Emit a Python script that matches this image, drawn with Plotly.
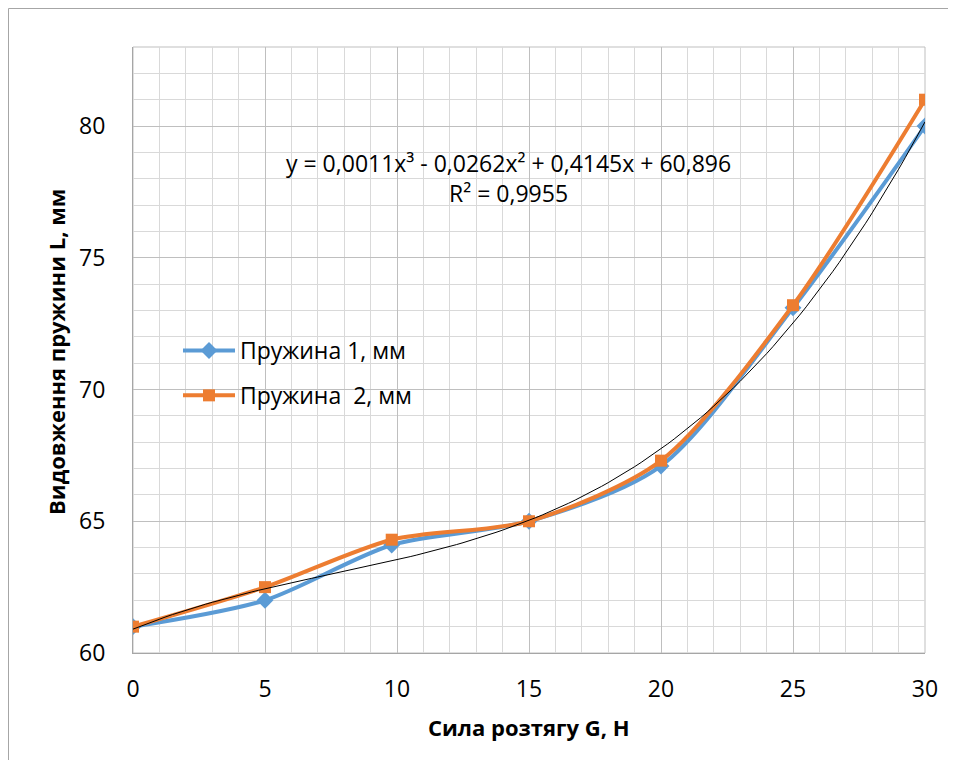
import numpy as np
import plotly.graph_objects as go

# Data
force = [0, 5, 9.8, 15, 20, 25, 30]
spring1 = [61.0, 62.0, 64.1, 65.0, 67.1, 73.1, 80.0]
spring2 = [61.0, 62.5, 64.3, 65.0, 67.3, 73.2, 81.0]
name1 = "Пружина 1, мм"
name2 = "Пружина  2, мм"
trend_label = "y = 0,0011x³ - 0,0262x² + 0,4145x + 60,896<br>R² = 0,9955"
x_title = "Сила розтягу G, Н"
y_title = "Видовження пружини L, мм"

# polynomial (3rd order) trendline fitted to series 1
coef = np.polyfit(force, spring1, 3)
tx = np.linspace(0, 30, 121)
ty = np.polyval(coef, tx)

FONT = "Open Sans"
OFF = 8  # page body margin
W, H = 948, 752
L, R, T, B = 125, 31, 39, 107
pw, ph = W - L - R, H - T - B

def px(x):
    return (x - OFF - L) / pw

def py(y):
    return 1 - (y - OFF - T) / ph

fig = go.Figure()
fig.add_trace(go.Scatter(
    x=force, y=spring1, name=name1, mode="lines+markers", legendgroup="a",
    line=dict(color="#5B9BD5", width=4, shape="spline", smoothing=0.8),
    marker=dict(symbol="diamond", size=13, color="#5B9BD5"),
))
fig.add_trace(go.Scatter(
    x=force, y=spring2, name=name2, mode="lines+markers", legendgroup="b",
    line=dict(color="#ED7D31", width=4, shape="spline", smoothing=0.8),
    marker=dict(symbol="square", size=12, color="#ED7D31"),
))
fig.add_trace(go.Scatter(
    x=tx, y=ty, mode="lines", showlegend=False, hoverinfo="skip",
    line=dict(color="black", width=1),
))

axis_common = dict(
    showgrid=True, gridcolor="#BFBFBF", gridwidth=1,
    minor=dict(showgrid=True, gridcolor="#D9D9D9", gridwidth=1, dtick=1),
    showline=True, linecolor="#A6A6A6", linewidth=1, mirror=False,
    zeroline=False, ticks="",
    tickfont=dict(family=FONT, size=23, color="black"),
)

fig.update_layout(
    width=W, height=H,
    margin=dict(l=L, r=R, t=T, b=B),
    paper_bgcolor="white", plot_bgcolor="white",
    font=dict(family=FONT, size=23, color="black"),
    xaxis=dict(range=[0, 30], dtick=5, tick0=0, ticklabelstandoff=15, **axis_common),
    yaxis=dict(range=[60, 83], dtick=5, tick0=60, ticklabelstandoff=22, **axis_common),
    legend=dict(x=px(178), y=py(329), xanchor="left", yanchor="top",
                bgcolor="rgba(0,0,0,0)", font=dict(family=FONT, size=23),
                tracegroupgap=12, itemwidth=52),
    showlegend=True,
)
# right/top plot edges
fig.add_shape(type="rect", xref="paper", yref="paper", x0=0, y0=0, x1=1, y1=1,
              line=dict(color="#BFBFBF", width=1), layer="below")
# outer chart border
fig.add_shape(type="rect", xref="paper", yref="paper",
              x0=px(8.5), y0=py(800), x1=px(1000), y1=py(8.5),
              line=dict(color="#A6A6A6", width=1))
fig.add_annotation(xref="paper", yref="paper", x=px(508), y=py(178),
                   text=trend_label, showarrow=False,
                   font=dict(family=FONT, size=23, color="black"),
                   align="center", xanchor="center", yanchor="middle")
fig.add_annotation(xref="paper", yref="paper", x=px(529), y=py(727),
                   text=f"<b>{x_title}</b>", showarrow=False,
                   font=dict(family=FONT, size=22, color="black"),
                   xanchor="center", yanchor="middle")
fig.add_annotation(xref="paper", yref="paper", x=px(56), y=py(352),
                   text=f"<b>{y_title}</b>", showarrow=False, textangle=-90,
                   font=dict(family=FONT, size=22, color="black"),
                   xanchor="center", yanchor="middle")

fig.write_html("out.html")
